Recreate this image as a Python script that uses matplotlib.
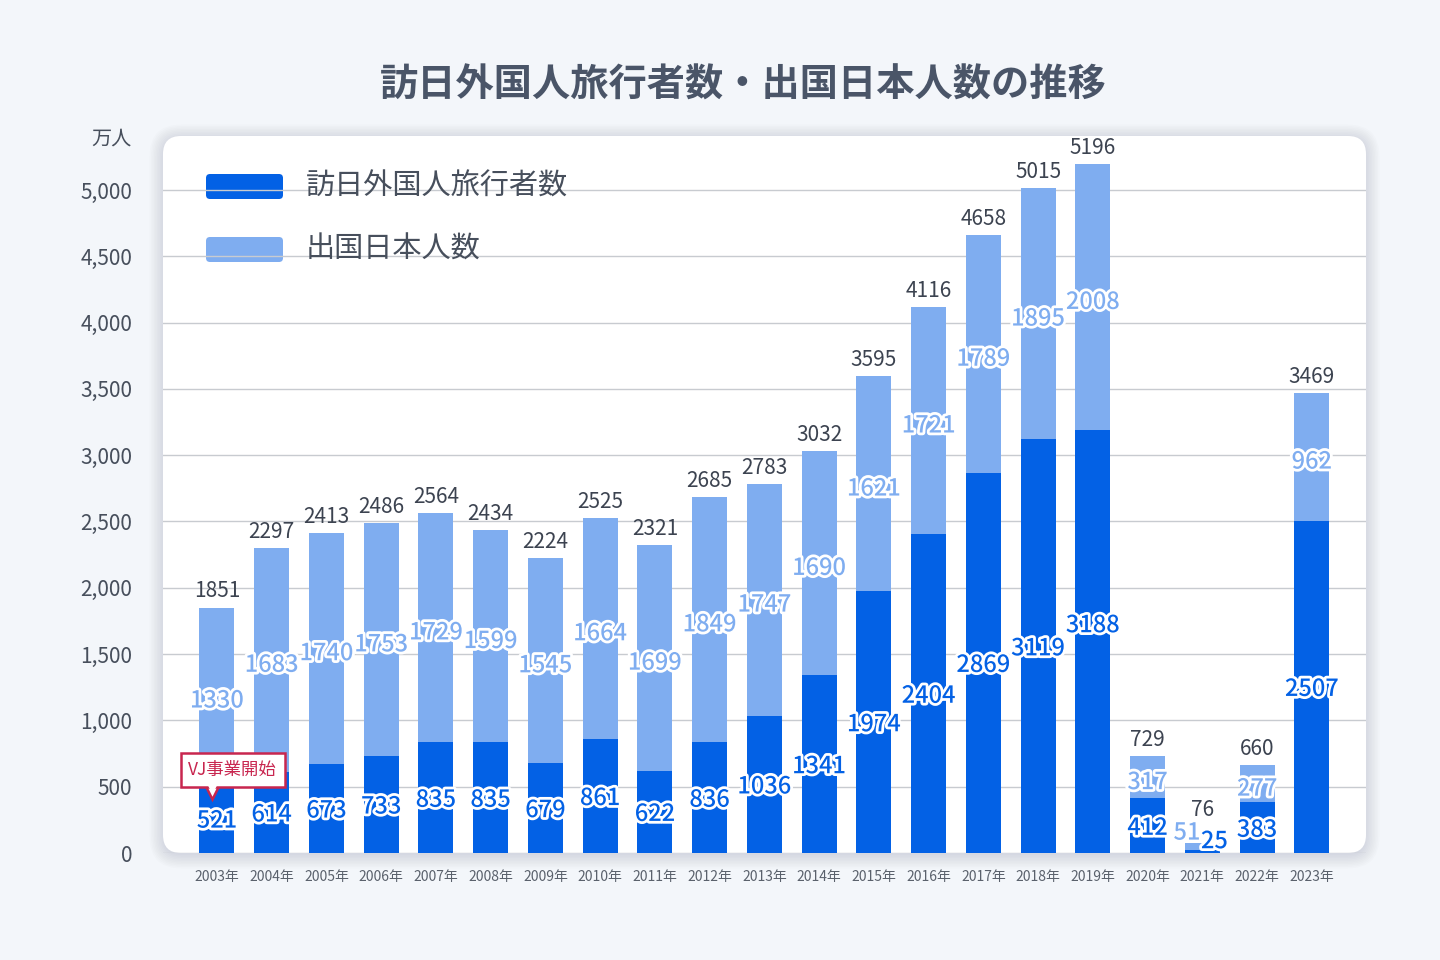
import numpy as np
import matplotlib.pyplot as plt
import matplotlib.patheffects as pe
from matplotlib.patches import FancyBboxPatch

plt.rcParams['font.family'] = ['Noto Sans CJK JP', 'DejaVu Sans']

# data (万人)
years = ['2003年', '2004年', '2005年', '2006年', '2007年', '2008年', '2009年',
         '2010年', '2011年', '2012年', '2013年', '2014年', '2015年', '2016年',
         '2017年', '2018年', '2019年', '2020年', '2021年', '2022年', '2023年']
visitors = [521, 614, 673, 733, 835, 835, 679, 861, 622, 836, 1036, 1341,
            1974, 2404, 2869, 3119, 3188, 412, 25, 383, 2507]
departures = [1330, 1683, 1740, 1753, 1729, 1599, 1545, 1664, 1699, 1849, 1747,
              1690, 1621, 1712, 1789, 1895, 2008, 317, 51, 277, 962]
departure_labels = [1330, 1683, 1740, 1753, 1729, 1599, 1545, 1664, 1699, 1849, 1747,
                    1690, 1621, 1721, 1789, 1895, 2008, 317, 51, 277, 962]
totals = [1851, 2297, 2413, 2486, 2564, 2434, 2224, 2525, 2321, 2685, 2783,
          3032, 3595, 4116, 4658, 5015, 5196, 729, 76, 660, 3469]

DARK = '#0361E5'
LIGHT = '#7FADF0'
BG = '#F3F6FA'
TXT = '#474F5C'

fig = plt.figure(figsize=(14.4, 9.6), dpi=100)
fig.patch.set_facecolor(BG)

# card + soft shadow (inches)
cx0, cy0, cw, ch = 1.63, 1.07, 12.03, 7.17
for k in range(10):
    sh = FancyBboxPatch((cx0, cy0 - 0.02), cw, ch,
                        boxstyle='round,pad=%.3f,rounding_size=%.3f' % (0.015 * k, 0.18 + 0.015 * k),
                        transform=fig.dpi_scale_trans, fc='#1a2a44', ec='none',
                        alpha=0.012, zorder=-3)
    fig.patches.append(sh)
card = FancyBboxPatch((cx0, cy0), cw, ch, boxstyle='round,pad=0,rounding_size=0.18',
                      transform=fig.dpi_scale_trans, fc='white', ec='none', zorder=-2)
fig.patches.append(card)

ax = fig.add_axes([163 / 1440, 107 / 960, 1203 / 1440, 717 / 960])
ax.patch.set_alpha(0)
for s in ax.spines.values():
    s.set_visible(False)

x = np.arange(len(years))
w = 0.64
ax.bar(x, visitors, w, color=DARK, zorder=2)
ax.bar(x, departures, w, bottom=visitors, color=LIGHT, zorder=2)

ax.set_xlim(-0.986, 20.99)
ax.set_ylim(0, 5407)
ax.set_yticks(np.arange(0, 5001, 500))
ax.set_yticklabels(['{:,}'.format(v) for v in range(0, 5001, 500)], fontsize=15, color=TXT)
ax.set_xticks(x)
ax.set_xticklabels(years, fontsize=10, color='#5A616C')
ax.tick_params(axis='y', length=0, pad=22)
ax.tick_params(axis='x', length=0, pad=12)
ax.set_axisbelow(True)
ax.yaxis.grid(True, color='#C8CBD0', lw=1)
ax.xaxis.grid(False)

stroke = [pe.withStroke(linewidth=4, foreground='white')]
dark_dy = {16: 140}
light_dx = {18: -0.28}
dark_dx = {18: 0.22}
light_y = {18: 150}
dark_y = {18: 85}
total_y = {18: 240}
for i in x:
    v, d = visitors[i], departures[i]
    yd = dark_y.get(i, v / 2 + dark_dy.get(i, 0) - 20)
    yl = light_y.get(i, v + d / 2 - 40)
    ax.text(i + dark_dx.get(i, 0), yd, str(v), ha='center', va='center', fontsize=17,
            color=DARK, fontweight='medium', path_effects=stroke, zorder=4)
    ax.text(i + light_dx.get(i, 0), yl, str(departure_labels[i]), ha='center', va='center',
            fontsize=17, color=LIGHT, fontweight='medium', path_effects=stroke, zorder=4)
    ax.text(i, total_y.get(i, v + d + 40), str(totals[i]), ha='center', va='bottom',
            fontsize=15, color='#3C4350', zorder=4)

# VJ callout
RED = '#C8264F'
ax.plot(-0.09, 470, marker='v', ms=11, mfc='white', mec=RED, mew=1.8, zorder=5, clip_on=False)
ax.text(0.29, 626, 'VJ事業開始', ha='center', va='center', fontsize=12.5, color=RED, zorder=6,
        bbox=dict(boxstyle='square,pad=0.45', fc='white', ec=RED, lw=1.8))
ax.plot(-0.09, 485, marker='v', ms=7.5, mfc='white', mec='none', zorder=7, clip_on=False)

# legend
for yy, col, lab in [(7.61, DARK, '訪日外国人旅行者数'), (6.98, LIGHT, '出国日本人数')]:
    p = FancyBboxPatch((2.06, yy), 0.77, 0.25, boxstyle='round,pad=0,rounding_size=0.04',
                       transform=fig.dpi_scale_trans, fc=col, ec='none', zorder=0.3)
    ax.add_patch(p)
    fig.text(3.06 / 14.4, (yy + 0.125) / 9.6, lab, ha='left', va='center', fontsize=21,
             color=TXT)

fig.text(111 / 1440, 1 - 139 / 960, '万人', ha='center', va='center', fontsize=14.5, color=TXT)
fig.text(743 / 1440, 1 - 85 / 960, '訪日外国人旅行者数・出国日本人数の推移', ha='center',
         va='center', fontsize=27.5, fontweight='bold', color='#4A5568')

fig.savefig('out.png', dpi=100, facecolor=BG)
